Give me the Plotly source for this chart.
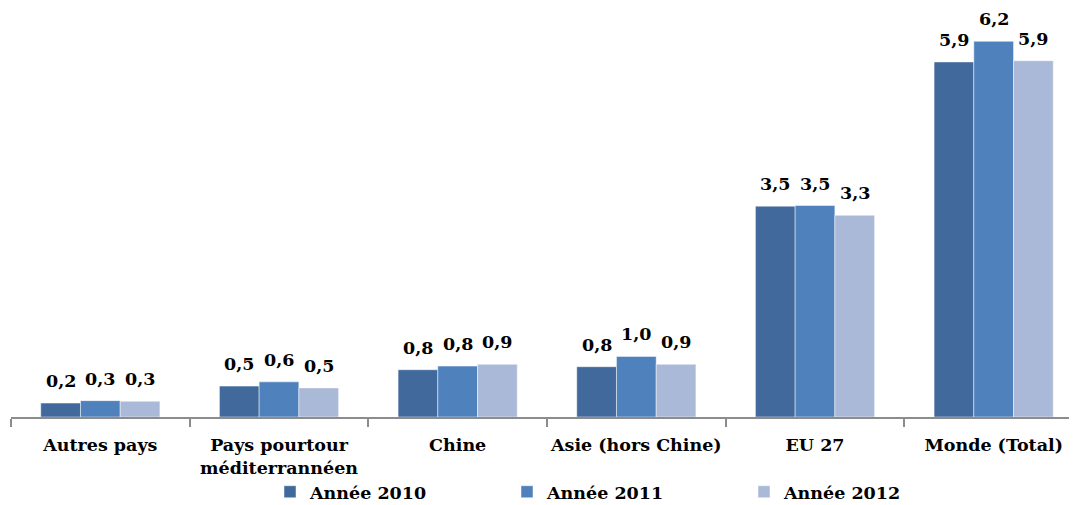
import plotly.graph_objects as go

categories = ["Autres pays", "Pays pourtour<br>méditerrannéen", "Chine", "Asie (hors Chine)", "EU 27", "Monde (Total)"]
series_names = ["Année 2010", "Année 2011", "Année 2012"]
values_2010 = [0.23, 0.51, 0.78, 0.83, 3.48, 5.86]
values_2011 = [0.27, 0.58, 0.84, 1.00, 3.49, 6.20]
values_2012 = [0.26, 0.48, 0.87, 0.87, 3.33, 5.88]
colors = ["#41699C", "#4F81BD", "#AAB9D7"]

FONT = "DejaVu Serif"
BARGAP = 0.333
all_series = [values_2010, values_2011, values_2012]
n = len(all_series)
bar_w = (1 - BARGAP) / n

fig = go.Figure()
for name, vals, col in zip(series_names, all_series, colors):
    fig.add_trace(go.Bar(
        x=categories, y=vals, name=name,
        marker=dict(color=col, line=dict(color="rgba(255,255,255,0.6)", width=0.8)),
    ))

# value labels above bars
for k, vals in enumerate(all_series):
    for i, v in enumerate(vals):
        fig.add_annotation(
            x=i + (k - (n - 1) / 2) * bar_w, y=v, xref="x", yref="y",
            text=f"{v:.1f}".replace(".", ","), showarrow=False,
            yanchor="bottom", yshift=10,
            font=dict(family=FONT, size=17.5, color="black", weight="bold"),
        )

fig.update_layout(
    width=1077, height=505,
    margin=dict(l=3, r=2, t=0, b=96, autoexpand=False),
    paper_bgcolor="white", plot_bgcolor="white",
    barmode="group", bargap=BARGAP, bargroupgap=0,
    font=dict(family=FONT, size=17, color="black", weight="bold"),
    showlegend=True,
    legend=dict(orientation="h", x=(262 - 3) / 1072, xanchor="left", y=-0.183, yanchor="middle",
                entrywidth=192, entrywidthmode="pixels", bgcolor="rgba(0,0,0,0)",
                font=dict(family="DejaVu Serif, serif", size=17.5, color="black", weight="bold"),
                itemwidth=30, tracegroupgap=0),
    xaxis=dict(range=[-0.5, 5.5], showline=True, linecolor="#8C8C8C", linewidth=2,
               ticks="outside", tickson="boundaries", ticklen=8, tickcolor="#8C8C8C", tickwidth=2,
               tickangle=0, automargin=False,
               tickfont=dict(family=FONT, size=17.5, color="black", weight="bold"),
               ticklabelstandoff=11, showgrid=False, fixedrange=True),
    yaxis=dict(range=[0, 6.75], visible=False, showgrid=False, fixedrange=True, automargin=False),
)

fig.write_html("out.html")
